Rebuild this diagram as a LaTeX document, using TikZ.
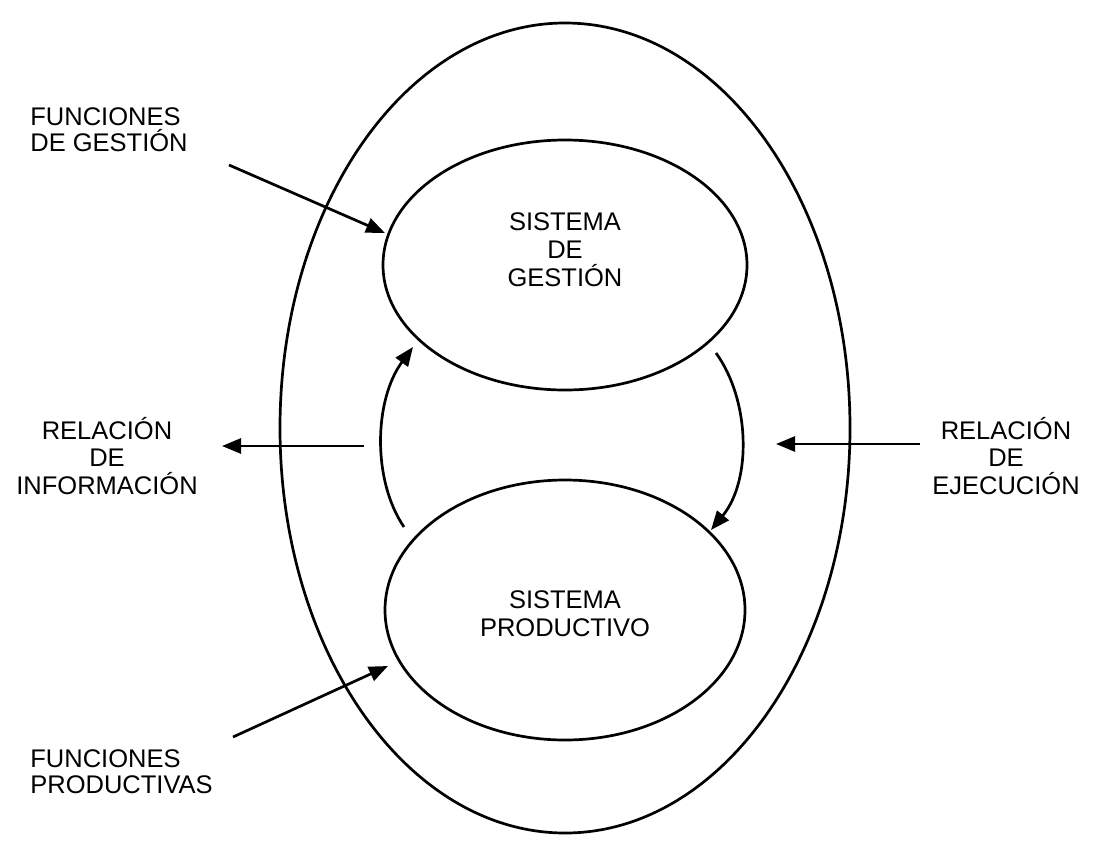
\documentclass[tikz,border=0pt]{standalone}
\usepackage{fontspec}
\setmainfont{Liberation Sans}
\usetikzlibrary{shapes.geometric,arrows.meta}
\begin{document}
\begin{tikzpicture}[x=1pt,y=-1pt,
  line width=2.7pt,
  ring/.style={draw, ellipse, inner sep=0pt},
  lbl/.style={font=\fontsize{25.5}{26}\selectfont, inner sep=0pt},
  sidelbl/.style={font=\fontsize{25.5}{27.5}\selectfont, inner sep=0pt, align=center, anchor=north},
  inlbl/.style={font=\fontsize{25.5}{28}\selectfont, inner sep=0pt, align=center},
  flow/.style={-{Triangle[length=19pt,width=15pt]}},
]
\useasboundingbox (0,0) rectangle (1095,860);

% the enclosing system and its two subsystems
\node[ring, minimum width=570pt, minimum height=810pt] (outer) at (565,428) {};
\node[ring, minimum width=364pt, minimum height=250pt] (gest) at (565,265) {};
\node[ring, minimum width=360pt, minimum height=260pt] (prod) at (565,610) {};

\node[inlbl] (gesttxt) at (565,250) {SISTEMA\\DE\\GESTIÓN};
\node[inlbl] (prodtxt) at (565,614) {SISTEMA\\PRODUCTIVO};

% outside labels
\node[lbl, align=left, anchor=north west] (fg) at (29,106) {FUNCIONES\\DE GESTIÓN};
\node[sidelbl] (ri) at (107,416) {RELACIÓN\\DE\\INFORMACIÓN};
\node[sidelbl] (re) at (1006,416) {RELACIÓN\\DE\\EJECUCIÓN};
\node[lbl, align=left, anchor=north west] (fp) at (29,748) {FUNCIONES\\PRODUCTIVAS};

% arrow end points
\coordinate (fgA) at (229,165);  \coordinate (fgB) at (385,233);
\coordinate (riA) at (364,446);  \coordinate (riB) at (222,446);
\coordinate (reA) at (920,444);  \coordinate (reB) at (776,444);
\coordinate (fpA) at (233,737);  \coordinate (fpB) at (388,666);
\coordinate (upA) at (404,527);  \coordinate (upB) at (413,347);
\coordinate (dnA) at (716,353);  \coordinate (dnB) at (711,530);

\draw[flow] (fgA) -- (fgB);
\draw[flow] (riA) -- (riB);
\draw[flow] (reA) -- (reB);
\draw[flow] (fpA) -- (fpB);
\draw[flow] (upA) .. controls (372,480) and (374,400) .. (upB);
\draw[flow] (dnA) .. controls (750,400) and (752,480) .. (dnB);
\end{tikzpicture}
\end{document}
